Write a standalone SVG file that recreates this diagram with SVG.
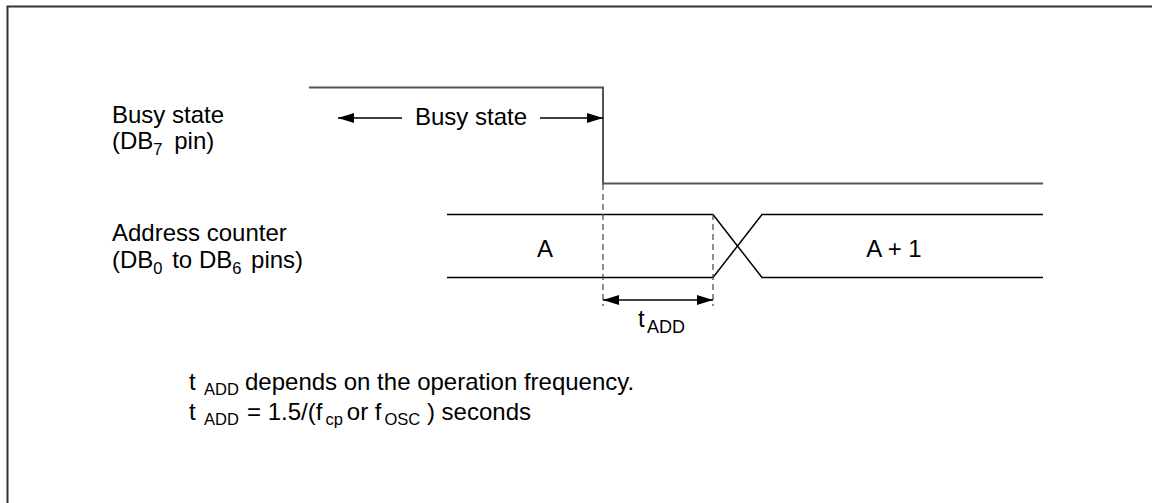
<svg xmlns="http://www.w3.org/2000/svg" width="1152" height="503" viewBox="0 0 1152 503">
<style>
text{font-family:"Liberation Sans",Arial,sans-serif;font-size:24px;fill:#000}
.sub{font-size:16.5px}
.sig{stroke:#555;stroke-width:2;fill:none}
.bus{stroke:#000;stroke-width:1.5;fill:none}
.dash{stroke:#444;stroke-width:1.2;stroke-dasharray:6,4;fill:none}
.arr{stroke:#000;stroke-width:1.3;fill:none}
</style>
<defs>
<marker id="ah" viewBox="0 0 16 10" refX="16" refY="5" markerWidth="16" markerHeight="10" markerUnits="userSpaceOnUse" orient="auto-start-reverse">
<path d="M0,0 L16,5 L0,10 z" fill="#000"/>
</marker>
</defs>
<g id="frame">
<path d="M7.5,503 V6.5 H1152" stroke="#333" stroke-width="2" fill="none"/>
</g>
<g id="busy-signal">
<path class="sig" d="M309,87.5 H603 V183.5 H1043"/>
</g>
<g id="address-signal">
<path class="bus" d="M447,214.5 H713 L762,277.5 H1043"/>
<path class="bus" d="M447,277.5 H713 L762,214.5 H1043"/>
</g>
<g id="labels">
<text x="112" y="123">Busy state</text>
<text x="112" y="149">(DB<tspan class="sub" dy="6">7</tspan><tspan dy="-6" dx="5"> pin)</tspan></text>
<text x="112" y="241">Address counter</text>
<text x="112" y="268">(DB<tspan class="sub" dy="6">0</tspan><tspan dy="-6" dx="3"> to DB</tspan><tspan class="sub" dy="6">6</tspan><tspan dy="-6" dx="3"> pins)</tspan></text>
<text x="545" y="257" text-anchor="middle">A</text>
<text x="894" y="257" text-anchor="middle">A + 1</text>
</g>
<g id="connectors">
<line class="arr" x1="402" y1="118" x2="338" y2="118" marker-end="url(#ah)"/>
<text x="471" y="125" text-anchor="middle">Busy state</text>
<line class="arr" x1="540" y1="118" x2="603" y2="118" marker-end="url(#ah)"/>
<line class="dash" x1="603" y1="184" x2="603" y2="306"/>
<line class="dash" x1="713" y1="214" x2="713" y2="306"/>
<line class="arr" x1="603" y1="300" x2="713" y2="300" marker-start="url(#ah)" marker-end="url(#ah)"/>
<text x="638" y="327">t<tspan class="sub" dy="6" x="647" style="font-size:18px">ADD</tspan></text>
</g>
<g id="notes">
<text x="189" y="390">t<tspan class="sub" dy="5" x="204">ADD</tspan><tspan dy="-5" x="245">depends on the operation frequency.</tspan></text>
<text x="189" y="420">t<tspan class="sub" dy="5" x="204">ADD</tspan><tspan dy="-5" x="247">= 1.5/(f</tspan><tspan class="sub" dy="5" dx="3">cp</tspan><tspan dy="-5" dx="4">or f</tspan><tspan class="sub" dy="5" dx="3">OSC</tspan><tspan dy="-5"> ) seconds</tspan></text>
</g>
</svg>
